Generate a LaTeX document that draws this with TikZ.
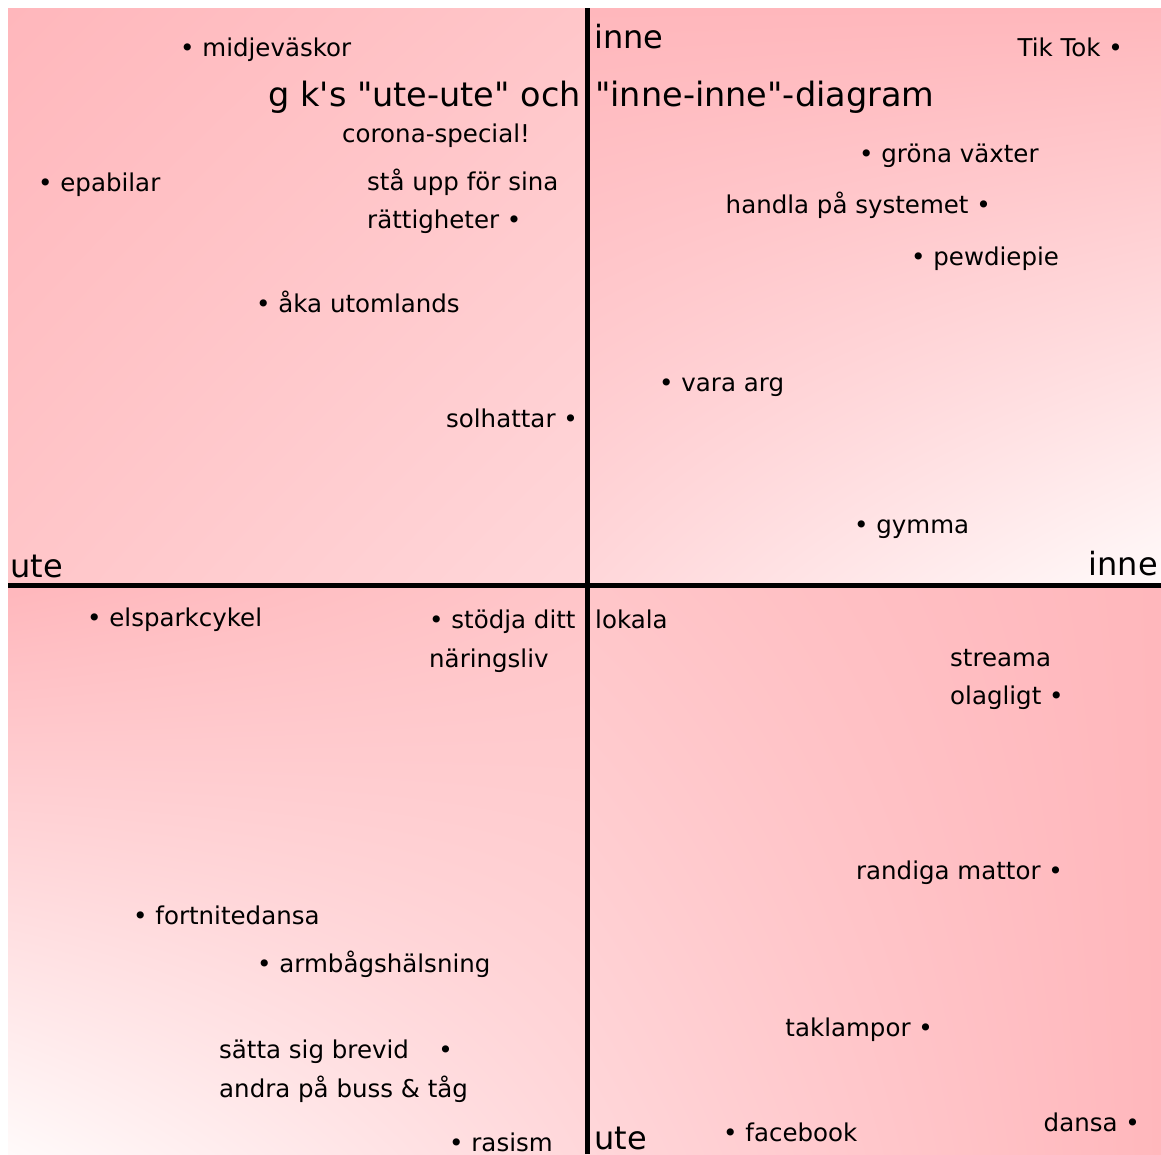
\documentclass[tikz,border=0pt]{standalone}
\usepackage{fontspec}
\setmainfont{DejaVu Sans}[Ligatures=TeXOff]
\usetikzlibrary{shadings}
\definecolor{rosa}{RGB}{255,183,188}
\definecolor{mellanrosa}{RGB}{255,198,201}
\definecolor{ljusrosa}{RGB}{255,215,218}
\definecolor{vitrosa}{RGB}{255,250,250}
\begin{document}
\begin{tikzpicture}[x=1pt,y=-1pt,
  sak/.style={inner sep=0pt, text height=0.75em, text depth=0.25em, yshift=-7pt, font=\fontsize{24.5}{28}\selectfont},
  axel/.style={inner sep=0pt, text height=0.75em, text depth=0.25em, yshift=-9pt, font=\fontsize{32}{38}\selectfont},
  linje/.style={line width=5pt, black}]
\useasboundingbox (0,0) rectangle (1161,1154);
% bakgrund, en ruta per kvadrant
\shade[upper left=rosa, upper right=mellanrosa, lower left=mellanrosa, lower right=ljusrosa] (8,8) rectangle (587.5,585.5);
\shade[upper left=rosa, upper right=rosa, lower left=ljusrosa, lower right=vitrosa] (587.5,8) rectangle (1161,585.5);
\shade[upper left=rosa, upper right=mellanrosa, lower left=vitrosa, lower right=ljusrosa] (8,585.5) rectangle (587.5,1154);
\shade[upper left=mellanrosa, upper right=rosa, lower left=ljusrosa, lower right=rosa] (587.5,585.5) rectangle (1161,1154);
% axlar
\coordinate (topp) at (587.5,8);
\coordinate (botten) at (587.5,1154);
\coordinate (vanster) at (8,585.5);
\coordinate (hoger) at (1161,585.5);
\draw [linje] (vanster) -- (hoger);
\draw [linje] (topp) -- (botten);
\node [axel, anchor=west] (inneupp) at (594,37) {inne};
\node [axel, anchor=east] (innehoger) at (1158,564) {inne};
\node [axel, anchor=west] (utevanster) at (10,566) {ute};
\node [axel, anchor=west] (utener) at (594,1138) {ute};
% rubrik, delad av axeln
\node [axel, anchor=east, font=\fontsize{33.5}{38}\selectfont] (rubrikv) at (581,95) {g k's "ute-ute" och};
\node [axel, anchor=west, font=\fontsize{33.5}{38}\selectfont] (rubrikh) at (595,95) {"inne-inne"-diagram};
\node [sak, anchor=west] (corona) at (342,133) {corona-special!};
% uppe till vänster
\node [sak, anchor=west] (midj) at (180,47) {• midjeväskor};
\node [sak, anchor=west] (epa) at (38,182) {• epabilar};
\node [sak, anchor=west] (staupp) at (367,181) {stå upp för sina};
\node [sak, anchor=west] (ratt) at (367,219) {rättigheter •};
\node [sak, anchor=west] (aka) at (256,303) {• åka utomlands};
\node [sak, anchor=east] (sol) at (578,418) {solhattar •};
% uppe till höger
\node [sak, anchor=east] (tiktok) at (1123,47) {Tik Tok •};
\node [sak, anchor=west] (grona) at (859,153) {• gröna växter};
\node [sak, anchor=east] (handla) at (991,204) {handla på systemet •};
\node [sak, anchor=west] (pew) at (911,256) {• pewdiepie};
\node [sak, anchor=west] (arg) at (659,382) {• vara arg};
\node [sak, anchor=west] (gymma) at (854,524) {• gymma};
% nere till vänster
\node [sak, anchor=west] (elspark) at (87,617) {• elsparkcykel};
\node [sak, anchor=west] (stodja) at (429,619) {• stödja ditt};
\node [sak, anchor=west] (lokala) at (595,619) {lokala};
\node [sak, anchor=west] (naring) at (429,658) {näringsliv};
\node [sak, anchor=west] (fortnite) at (133,915) {• fortnitedansa};
\node [sak, anchor=west] (armbage) at (257,963) {• armbågshälsning};
\node [sak, anchor=west] (satta) at (219,1049) {sätta sig brevid\hspace{1.2em}•};
\node [sak, anchor=west] (andra) at (219,1088) {andra på buss \& tåg};
\node [sak, anchor=west] (rasism) at (449,1142) {• rasism};
% nere till höger
\node [sak, anchor=west] (streama) at (950,657) {streama};
\node [sak, anchor=west] (olagligt) at (950,695) {olagligt •};
\node [sak, anchor=east] (randiga) at (1063,870) {randiga mattor •};
\node [sak, anchor=east] (taklampor) at (933,1027) {taklampor •};
\node [sak, anchor=west] (facebook) at (723,1132) {• facebook};
\node [sak, anchor=east] (dansa) at (1140,1122) {dansa •};
\end{tikzpicture}
\end{document}
